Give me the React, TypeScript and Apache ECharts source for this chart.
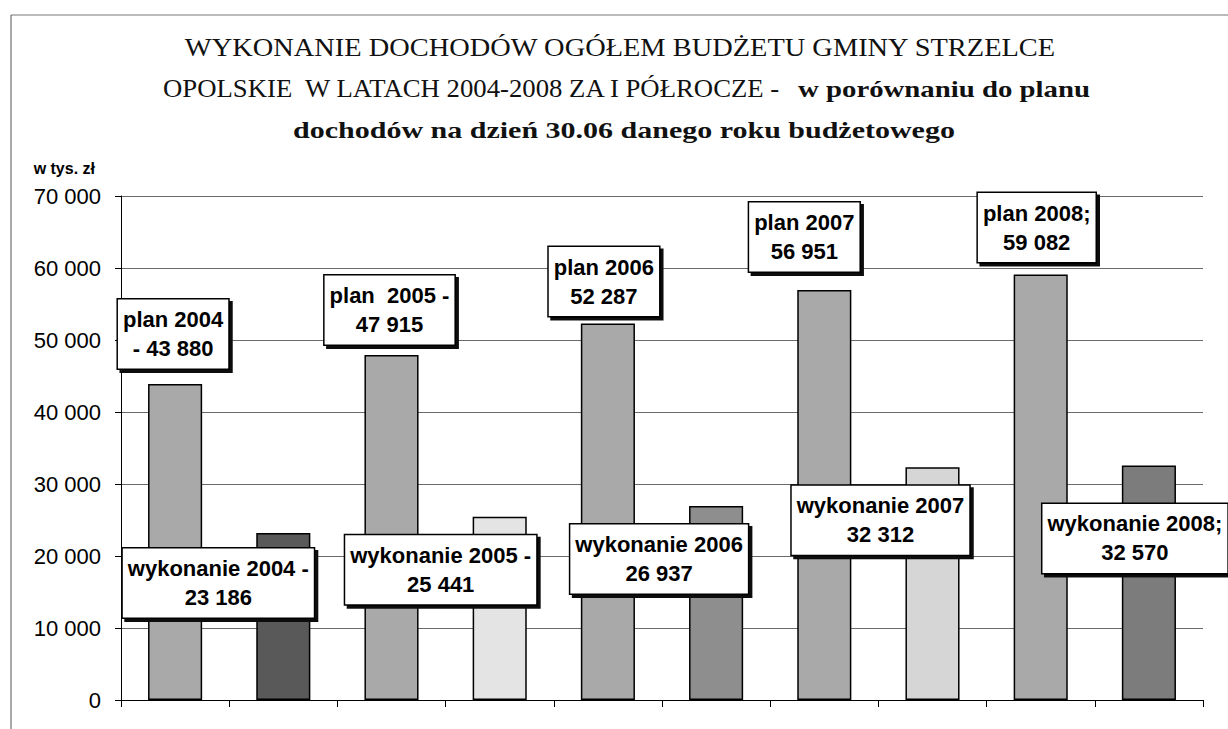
import React, { useEffect, useRef } from "react";
import * as echarts from "echarts";

const categories = [
  "plan 2004", "wykonanie 2004",
  "plan 2005", "wykonanie 2005",
  "plan 2006", "wykonanie 2006",
  "plan 2007", "wykonanie 2007",
  "plan 2008", "wykonanie 2008",
];
const values = [43880, 23186, 47915, 25441, 52287, 26937, 56951, 32312, 59082, 32570];
const labelTexts = [
  "plan 2004\n- 43 880",
  "wykonanie 2004 -\n23 186",
  "plan  2005 -\n47 915",
  "wykonanie 2005 -\n25 441",
  "plan 2006\n52 287",
  "wykonanie 2006\n26 937",
  "plan 2007\n56 951",
  "wykonanie 2007\n32 312",
  "plan 2008;\n59 082",
  "wykonanie 2008;\n32 570",
];
const barColors = [
  "#a9a9a9", "#595959",
  "#a9a9a9", "#e4e4e4",
  "#a9a9a9", "#8e8e8e",
  "#a9a9a9", "#d6d6d6",
  "#a9a9a9", "#7c7c7c",
];
const labelOffsets: [number, number][] = [
  [-2, -50], [-65, 50],
  [-2, -45], [-59, 53],
  [-4, -42], [-57, 53],
  [-20, -53], [-52, 53],
  [-4, -47], [-14, 73],
];
const yTicks = [0, 10000, 20000, 30000, 40000, 50000, 60000, 70000];

const fmt = (v: number) => String(v).replace(/\B(?=(\d{3})+(?!\d))/g, " ");

export default function App() {
  const ref = useRef<HTMLDivElement>(null);
  useEffect(() => {
    if (!ref.current) return;
    const chart = echarts.init(ref.current, null, { renderer: "svg" });
    const serif = "'Liberation Serif', 'DejaVu Serif', serif";
    chart.setOption({
      animation: false,
      backgroundColor: "#ffffff",
      graphic: [
        { type: "line", shape: { x1: 11, y1: 15, x2: 1228, y2: 15 }, style: { stroke: "#777", lineWidth: 1 } },
        { type: "line", shape: { x1: 11, y1: 15, x2: 11, y2: 729 }, style: { stroke: "#555", lineWidth: 1 } },
        {
          type: "text", x: 620, y: 48, scaleX: 1.137,
          style: { text: "WYKONANIE DOCHODÓW OGÓŁEM BUDŻETU GMINY STRZELCE", font: `25px ${serif}`, fill: "#111", align: "center", verticalAlign: "middle" },
        },
        {
          type: "text", x: 163, y: 89, scaleX: 1.07,
          style: { text: "OPOLSKIE  W LATACH 2004-2008 ZA I PÓŁROCZE -", font: `25px ${serif}`, fill: "#111", align: "left", verticalAlign: "middle" },
        },
        {
          type: "text", x: 798, y: 89, scaleX: 1.2,
          style: { text: "w porównaniu do planu", font: `bold 24px ${serif}`, fill: "#111", align: "left", verticalAlign: "middle" },
        },
        {
          type: "text", x: 624, y: 130, scaleX: 1.25,
          style: { text: "dochodów na dzień 30.06 danego roku budżetowego", font: `bold 24px ${serif}`, fill: "#111", align: "center", verticalAlign: "middle" },
        },
      ],
      grid: { left: 121, right: 25, top: 196, bottom: 29, containLabel: false },
      xAxis: {
        type: "category",
        data: categories,
        axisLine: { lineStyle: { color: "#000", width: 1 } },
        axisTick: { show: true, interval: 0, length: 7, lineStyle: { color: "#000" } },
        axisLabel: { show: false, interval: 0 },
        splitLine: { show: false },
      },
      yAxis: {
        type: "value",
        min: 0,
        max: 70000,
        interval: 10000,
        name: "w tys. zł",
        nameLocation: "end",
        nameGap: 28,
        nameTextStyle: {
          fontFamily: "'Liberation Sans', Arial, sans-serif",
          fontWeight: "bold",
          fontSize: 16,
          color: "#000",
          align: "right",
          verticalAlign: "middle",
          padding: [0, 26, 0, 0],
        },
        axisLine: { show: true, lineStyle: { color: "#000", width: 1 } },
        axisTick: { show: true, length: 6, lineStyle: { color: "#000" } },
        axisLabel: {
          margin: 20,
          fontFamily: "'Liberation Sans', Arial, sans-serif",
          fontSize: 22,
          color: "#000",
          formatter: (v: number) => (yTicks.includes(v) ? fmt(v) : ""),
        },
        splitLine: { show: true, lineStyle: { color: "#6a6a6a", width: 1 } },
      },
      series: [
        {
          type: "bar",
          barWidth: "50%",
          data: values.map((v, i) => ({
            value: v,
            itemStyle: { color: barColors[i], borderColor: "#000", borderWidth: 1.5 },
            label: {
              show: true,
              position: "top",
              distance: 0,
              align: "center",
              verticalAlign: "middle",
              offset: labelOffsets[i],
              formatter: labelTexts[i],
              fontFamily: "'Liberation Sans', Arial, sans-serif",
              fontWeight: "bold",
              fontSize: 22,
              lineHeight: 29,
              color: "#000",
              backgroundColor: "#ffffff",
              borderColor: "#000",
              borderWidth: 1.5,
              padding: [6, 5, 5, 5],
              shadowColor: "#111",
              shadowOffsetX: 3,
              shadowOffsetY: 3,
              shadowBlur: 0,
            },
          })),
        },
      ],
    });
    return () => chart.dispose();
  }, []);
  return (
    <div
      ref={ref}
      style={{ position: "fixed", left: 0, top: 0, width: 1228, height: 729 }}
    />
  );
}
